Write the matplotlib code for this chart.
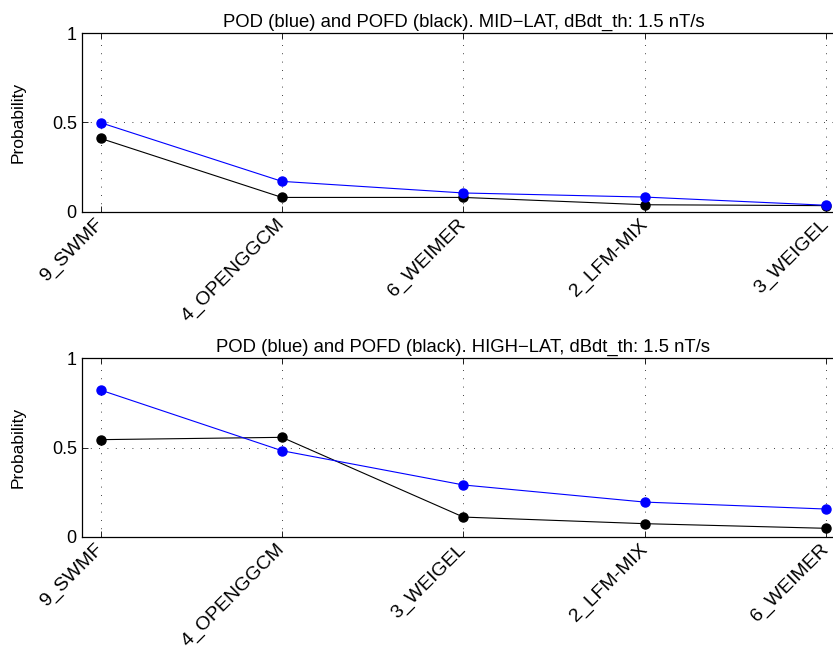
import matplotlib
matplotlib.use("Agg")
import matplotlib.pyplot as plt

plt.rcParams['font.family'] = ['Liberation Sans', 'DejaVu Sans']

mid_models = ["9_SWMF", "4_OPENGGCM", "6_WEIMER", "2_LFM-MIX", "3_WEIGEL"]
mid_pod = [0.499, 0.170, 0.105, 0.082, 0.036]
mid_pofd = [0.411, 0.080, 0.080, 0.039, 0.034]

high_models = ["9_SWMF", "4_OPENGGCM", "3_WEIGEL", "2_LFM-MIX", "6_WEIMER"]
high_pod = [0.822, 0.482, 0.290, 0.194, 0.155]
high_pofd = [0.544, 0.557, 0.110, 0.073, 0.047]

titles = ["POD (blue) and POFD (black). MID\u2212LAT, dBdt_th: 1.5 nT/s",
          "POD (blue) and POFD (black). HIGH\u2212LAT, dBdt_th: 1.5 nT/s"]

fig = plt.figure(figsize=(8.33, 6.49), dpi=100)
W, H = 833, 649
left = 82.4 / W
width = 762 / W
height = 178.4 / H
bottoms = [1 - 211.7 / H, 1 - 536.7 / H]

panels = [(mid_models, mid_pod, mid_pofd), (high_models, high_pod, high_pofd)]
for i, (models, pod, pofd) in enumerate(panels):
    ax = fig.add_axes([left, bottoms[i], width, height])
    x = list(range(1, len(models) + 1))
    ax.plot(x, pofd, '-o', color='black', lw=0.8, ms=6.5, zorder=3, clip_on=False)
    ax.plot(x, pod, '-o', color='#0000ff', lw=0.8, ms=6.5, zorder=3, clip_on=False)
    ax.set_xlim(0.9, 5.1)
    ax.set_ylim(0, 1)
    ax.set_xticks(x)
    ax.set_xticklabels(models, rotation=45, ha='right', va='center',
                       rotation_mode='anchor', fontsize=14)
    ax.set_yticks([0, 0.5, 1])
    ax.set_yticklabels(['0', '0.5', '1'], fontsize=13)
    ax.set_ylabel('Probability', fontsize=12.5)
    ax.yaxis.set_label_coords(-0.075, 0.5)
    ax.set_title(titles[i], fontsize=13.3, pad=5)
    ax.grid(True, color='black', linestyle=(0, (1, 9)), linewidth=0.6)
    ax.tick_params(direction='in', length=4, width=0.6, top=True, right=False)
    ax.tick_params(axis='x', pad=7)
    ax.tick_params(axis='y', pad=4)
    for s in ax.spines.values():
        s.set_linewidth(0.9)
    ax.spines['right'].set_visible(False)

fig.savefig("out.png", dpi=100)
